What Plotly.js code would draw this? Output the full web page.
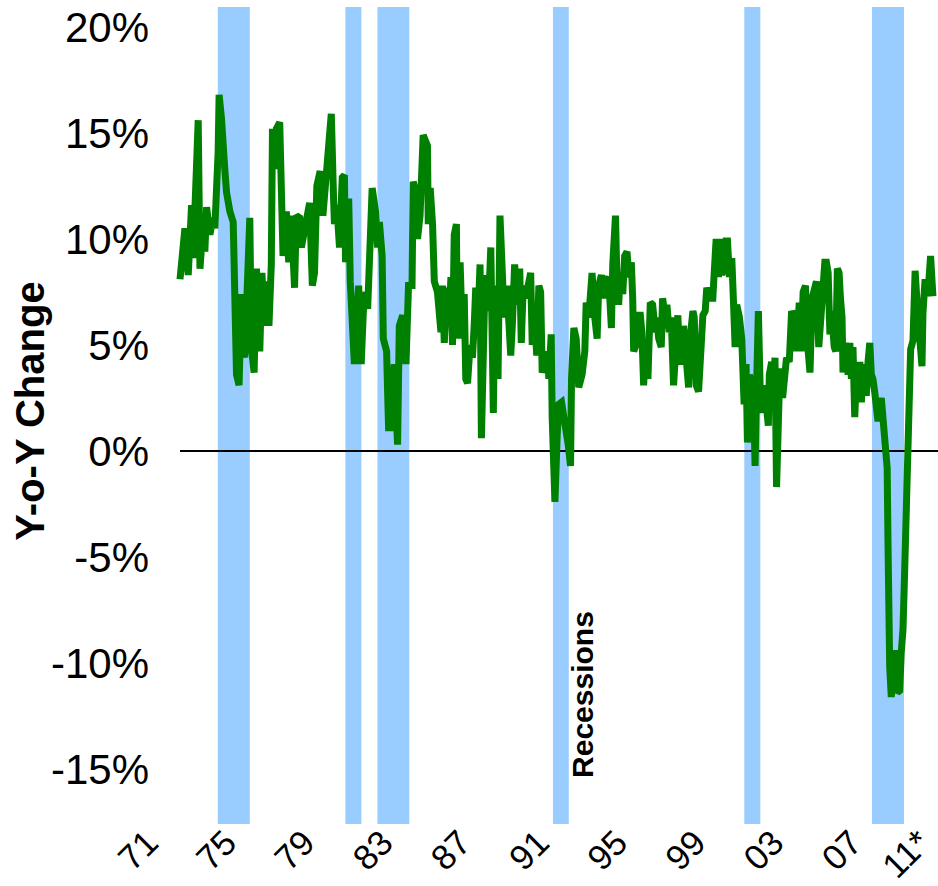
<!DOCTYPE html>
<html><head><meta charset="utf-8">
<script src="https://cdn.plot.ly/plotly-3.0.1.min.js"></script>
<style>html,body{margin:0;padding:0;background:#fff}#chart{width:938px;height:886px}</style>
</head><body><div id="chart"></div>
<script>
const years = [1972.28,1972.36,1972.53,1972.70,1972.87,1972.95,1973.13,1973.21,1973.30,1973.46,1973.55,1973.64,1973.81,1973.97,1974.06,1974.15,1974.23,1974.28,1974.40,1974.57,1974.66,1974.83,1975.00,1975.03,1975.08,1975.17,1975.30,1975.42,1975.59,1975.73,1975.85,1975.93,1976.07,1976.19,1976.36,1976.47,1976.61,1976.75,1976.83,1976.95,1977.01,1977.12,1977.21,1977.38,1977.46,1977.55,1977.72,1977.84,1977.97,1978.14,1978.23,1978.40,1978.49,1978.65,1978.91,1979.05,1979.16,1979.28,1979.45,1979.59,1979.72,1979.84,1980.02,1980.13,1980.18,1980.30,1980.44,1980.58,1980.69,1980.75,1980.91,1980.99,1981.09,1981.20,1981.42,1981.55,1981.66,1981.80,1981.88,1981.97,1982.11,1982.28,1982.39,1982.48,1982.62,1982.68,1982.85,1982.90,1982.95,1983.08,1983.24,1983.41,1983.50,1983.67,1983.84,1983.97,1984.15,1984.21,1984.35,1984.43,1984.56,1984.72,1984.94,1984.98,1985.08,1985.20,1985.29,1985.45,1985.63,1985.71,1985.80,1985.93,1986.05,1986.14,1986.22,1986.31,1986.42,1986.47,1986.61,1986.73,1986.82,1986.90,1986.99,1987.12,1987.24,1987.33,1987.41,1987.53,1987.63,1987.70,1987.80,1987.89,1988.01,1988.09,1988.18,1988.26,1988.31,1988.38,1988.49,1988.55,1988.65,1988.77,1988.86,1989.00,1989.11,1989.20,1989.28,1989.40,1989.54,1989.66,1989.74,1989.84,1989.96,1990.08,1990.22,1990.30,1990.39,1990.53,1990.64,1990.73,1990.81,1990.93,1991.07,1991.15,1991.27,1991.32,1991.46,1991.58,1991.66,1991.80,1991.92,1992.04,1992.14,1992.26,1992.31,1992.43,1992.55,1992.68,1992.85,1992.99,1993.06,1993.19,1993.28,1993.36,1993.50,1993.62,1993.70,1993.84,1993.96,1994.08,1994.21,1994.35,1994.42,1994.56,1994.64,1994.72,1994.81,1994.93,1995.03,1995.15,1995.24,1995.37,1995.44,1995.49,1995.61,1995.71,1995.83,1995.91,1996.00,1996.12,1996.22,1996.34,1996.46,1996.60,1996.68,1996.77,1996.90,1996.97,1997.11,1997.19,1997.31,1997.41,1997.53,1997.67,1997.75,1997.84,1997.95,1998.04,1998.18,1998.30,1998.41,1998.52,1998.59,1998.69,1998.81,1998.89,1999.03,1999.15,1999.23,1999.40,1999.54,1999.61,1999.71,1999.83,1999.91,2000.00,2000.12,2000.22,2000.29,2000.39,2000.51,2000.59,2000.68,2000.76,2000.90,2001.02,2001.10,2001.14,2001.24,2001.31,2001.41,2001.53,2001.61,2001.70,2001.78,2001.87,2001.99,2002.12,2002.26,2002.38,2002.43,2002.55,2002.63,2002.72,2002.80,2002.89,2002.97,2003.11,2003.23,2003.31,2003.45,2003.57,2003.69,2003.82,2003.96,2004.05,2004.16,2004.28,2004.38,2004.51,2004.62,2004.76,2004.84,2004.96,2005.07,2005.18,2005.27,2005.35,2005.44,2005.53,2005.61,2005.75,2005.83,2005.91,2006.00,2006.07,2006.15,2006.20,2006.32,2006.46,2006.55,2006.63,2006.71,2006.80,2006.88,2006.97,2007.06,2007.14,2007.22,2007.31,2007.39,2007.48,2007.57,2007.65,2007.73,2007.82,2007.90,2007.99,2008.08,2008.16,2008.24,2008.36,2008.41,2008.46,2008.50,2008.54,2008.59,2008.67,2008.84,2008.98,2009.10,2009.18,2009.27,2009.35,2009.43,2009.49,2009.52,2009.61,2009.66,2009.78,2009.89,2010.00,2010.12,2010.24,2010.29,2010.40,2010.54,2010.68,2010.80];
const yoy = [8.1,9.1,10.5,8.3,11.6,9.1,13.6,15.6,8.6,10.7,9.4,11.5,10.2,11.0,10.5,12.1,14.1,16.8,15.7,13.3,12.2,11.3,10.8,9.6,7.8,3.6,3.1,7.4,4.4,7.5,11.0,4.9,3.7,8.6,4.7,8.4,5.9,8.0,5.9,8.8,15.2,13.3,15.2,15.5,12.5,9.2,11.3,8.9,11.1,7.7,11.1,11.0,9.6,10.5,11.7,7.8,8.4,12.5,13.2,11.1,12.7,14.1,15.9,12.1,10.7,11.6,9.6,12.9,13.0,8.9,11.9,8.0,5.6,4.1,7.8,4.1,6.6,7.5,6.7,10.0,12.4,11.3,9.6,10.8,9.2,5.3,4.7,2.8,1.1,1.1,4.1,0.3,5.9,6.4,4.1,7.8,7.8,12.7,12.2,10.0,11.1,14.9,14.4,10.7,12.4,10.7,8.0,7.5,5.6,7.8,5.1,7.7,6.3,8.2,5.0,10.2,10.7,5.3,8.9,5.3,7.4,3.4,3.2,5.0,4.4,5.9,7.7,6.3,8.8,0.6,4.7,8.3,6.6,7.5,9.6,4.4,1.8,6.9,7.8,3.4,11.1,8.4,6.3,7.8,6.3,4.5,5.9,8.8,6.9,8.6,5.1,7.8,7.2,7.8,8.4,5.0,7.0,4.5,7.8,7.5,3.7,4.1,4.7,3.4,5.5,1.6,-2.4,0.8,2.2,2.3,1.6,1.2,0.3,-0.7,3.4,5.8,5.3,3.0,3.6,4.7,7.0,6.3,8.2,8.4,6.3,5.3,7.8,8.3,7.2,8.0,8.2,5.8,8.8,11.1,7.8,6.9,8.4,7.4,9.2,9.4,8.2,8.9,7.2,4.7,5.0,6.4,6.4,5.6,3.1,5.3,3.4,7.0,6.9,5.6,6.3,5.3,4.9,7.2,6.3,6.9,5.6,6.3,3.1,6.3,6.4,4.4,4.1,5.9,4.5,3.0,5.6,6.6,6.3,3.1,2.8,5.0,6.4,6.6,7.7,7.2,7.2,8.4,10.0,8.2,10.0,8.3,8.8,9.9,9.9,8.2,9.1,7.2,4.9,6.9,6.3,5.3,3.9,2.2,4.1,0.4,3.6,3.1,3.4,-0.7,3.1,6.6,1.8,3.1,2.3,1.2,3.6,4.2,2.3,4.4,-1.7,2.0,3.9,2.5,4.2,4.4,4.2,6.6,6.3,4.7,7.0,4.7,7.5,7.8,5.1,3.7,7.2,7.8,8.0,4.9,6.6,8.4,8.9,8.9,8.4,5.5,6.6,4.9,4.7,8.6,8.4,7.2,6.3,3.7,5.1,3.6,5.1,3.4,4.9,1.6,3.4,3.1,4.2,2.3,4.1,3.4,2.6,4.2,5.1,3.6,3.4,2.8,1.6,1.4,2.2,2.5,1.6,0.6,-0.3,-0.8,-4.2,-8.1,-10.2,-11.6,-9.4,-11.4,-11.3,-9.5,-8.4,-5.8,-2.6,-0.1,2.1,3.3,4.8,5.2,8.5,6.8,5.6,4.0,6.5,8.1,7.3,9.2,7.3];
const recessionStarts = [1974.21, 1980.74, 1982.38, 1991.36, 2001.15, 2007.68];
const recessionEnds   = [1975.85, 1981.56, 1984.01, 1992.17, 2001.97, 2009.32];
const tickYears  = [1971, 1975, 1979, 1983, 1987, 1991, 1995, 1999, 2003, 2007, 2010.5];
const tickLabels = ['71', '75', '79', '83', '87', '91', '95', '99', '03', '07', '11*'];
const yTicks      = [-15, -10, -5, 0, 5, 10, 15, 20];
const yTickLabels = ['-15%', '-10%', '-5%', '0%', '5%', '10%', '15%', '20%'];

const FONT = 'Liberation Sans, Arial, Helvetica, sans-serif';
const xRange = [1970.744, 2011.06];

const shapes = recessionStarts.map((s, i) => ({
  type: 'rect', xref: 'x', yref: 'paper', x0: s, x1: recessionEnds[i], y0: 0, y1: 1,
  fillcolor: '#99CCFF', line: {width: 0}, layer: 'below'
}));
shapes.push({type: 'line', xref: 'x', yref: 'y', x0: years[0], x1: xRange[1], y0: 0, y1: 0,
  line: {color: '#000000', width: 2}, layer: 'below'});

const trace = {
  x: years, y: yoy, type: 'scatter', mode: 'lines',
  line: {color: '#008000', width: 7}, hoverinfo: 'skip'
};

const layout = {
  width: 938, height: 886,
  margin: {l: 150, r: 0, t: 7, b: 62, pad: 0},
  paper_bgcolor: '#ffffff', plot_bgcolor: '#ffffff',
  showlegend: false,
  font: {family: FONT, color: '#000000'},
  xaxis: {
    range: xRange, tickmode: 'array', tickvals: tickYears, ticktext: tickLabels,
    tickangle: -45, tickfont: {family: FONT, size: 35, color: '#000000'},
    ticklabeloverflow: 'allow', ticklabelstandoff: -10, ticklabelshift: -7,
    showgrid: false, zeroline: false, showline: false, ticks: ''
  },
  yaxis: {
    range: [-17.59, 20.94], tickmode: 'array', tickvals: yTicks, ticktext: yTickLabels,
    tickfont: {family: FONT, size: 42, color: '#000000'},
    showgrid: false, zeroline: false, showline: false, ticks: ''
  },
  shapes: shapes,
  annotations: [
    {text: '<b>Y-o-Y Change</b>', xref: 'paper', yref: 'paper', x: -0.152, y: 0.505,
     xanchor: 'center', yanchor: 'middle', textangle: -90, showarrow: false,
     font: {family: FONT, size: 40, color: '#000000'}},
    {text: '<b>Recessions</b>', xref: 'paper', yref: 'paper', x: 0.5495, y: 0.158,
     xanchor: 'center', yanchor: 'middle', textangle: -90, showarrow: false,
     font: {family: FONT, size: 30, color: '#000000'}}
  ]
};

Plotly.newPlot('chart', [trace], layout, {staticPlot: true, displayModeBar: false});
</script></body></html>
